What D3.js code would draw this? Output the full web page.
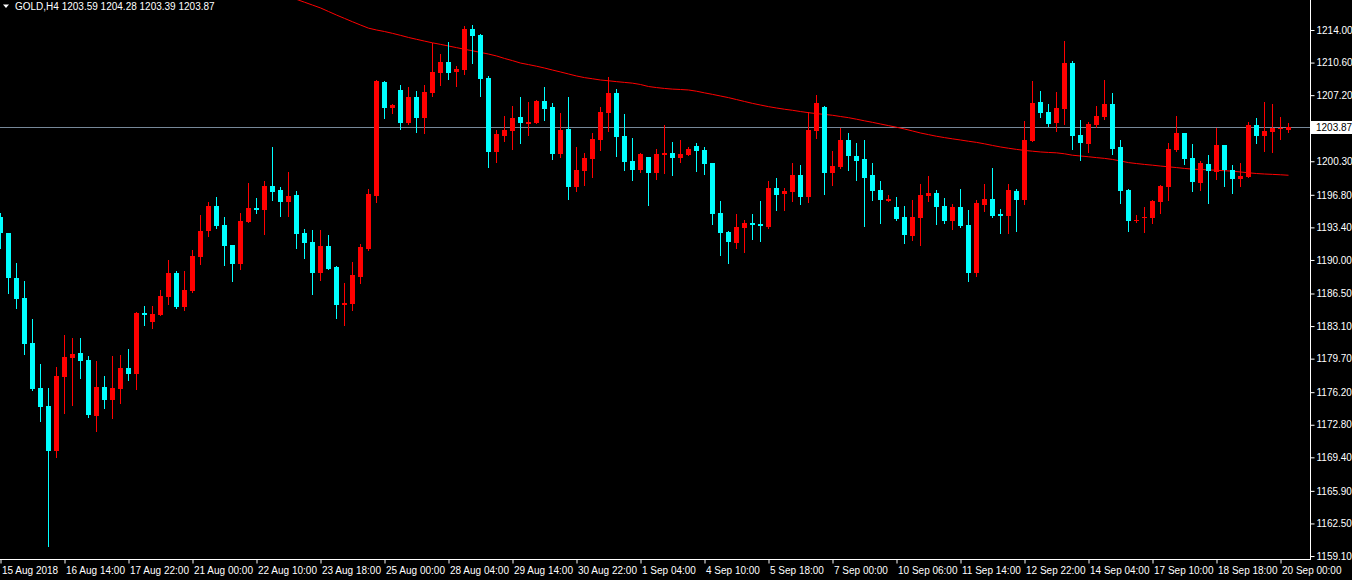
<!DOCTYPE html>
<html>
<head>
<meta charset="utf-8">
<script src="https://cdn.jsdelivr.net/npm/d3@7"></script>
<style>
html,body{margin:0;padding:0;background:#000;}
svg{display:block;}
text{font-family:"Liberation Sans",Arial,sans-serif;font-size:10px;}
</style>
</head>
<body>
<svg id="chart" width="1352" height="580"></svg>
<script>
const symbol = "GOLD,H4";

const open = [
1194.52,1192.78,1188.13,1186.03,1181.33,1176.64,1174.75,1170.09,1177.78,1179.80,
1180.29,1179.56,1173.74,1176.74,1175.41,1176.53,1178.72,1178.10,1184.46,1183.52,
1184.25,1186.13,1188.64,1185.09,1186.76,1190.31,1193.02,1195.63,1193.65,1191.56,
1189.58,1193.96,1195.42,1195.21,1197.72,1197.30,1196.05,1196.78,1192.81,1191.87,
1188.64,1191.46,1189.26,1185.30,1185.40,1188.22,1191.14,1196.67,1208.57,1205.86,
1207.74,1204.29,1207.01,1204.81,1207.42,1209.51,1210.66,1209.62,1209.82,1214.10,
1213.48,1208.99,1201.26,1202.94,1203.46,1204.92,1204.19,1204.29,1206.59,1205.96,
1201.06,1203.67,1197.61,1199.28,1200.53,1202.52,1205.34,1207.42,1202.94,1200.33,
1199.39,1200.74,1199.07,1200.95,1201.16,1200.64,1200.95,1201.89,1201.47,1200.12,
1194.91,1192.92,1191.77,1193.34,1193.86,1193.75,1193.44,1197.51,1196.88,1197.09,
1198.86,1196.57,1203.46,1205.96,1199.07,1199.70,1202.52,1200.85,1200.53,1198.86,
1197.30,1196.15,1195.53,1194.48,1192.50,1194.38,1196.67,1196.99,1195.63,1194.07,
1195.53,1193.65,1188.64,1195.73,1196.36,1194.80,1194.59,1197.20,1196.26,1202.41,
1206.48,1205.44,1204.29,1205.75,1210.55,1203.04,1202.10,1204.08,1204.92,1206.28,
1201.79,1197.30,1194.07,1194.38,1194.38,1196.05,1197.61,1201.47,1203.25,1200.64,
1198.03,1200.01,1199.18,1201.99,1199.39,1198.45,1198.66,1204.08,1202.94,1203.35,
1203.67,1203.59];

const high = [
1194.93,1192.78,1189.65,1187.81,1183.84,1179.14,1176.64,1178.83,1182.17,1181.85,
1181.85,1179.98,1179.45,1177.89,1179.98,1180.08,1180.71,1184.57,1185.23,1185.23,
1186.90,1189.99,1188.85,1188.85,1191.04,1194.69,1196.05,1196.57,1194.48,1191.56,
1194.91,1198.03,1196.47,1198.24,1201.78,1197.61,1199.18,1197.20,1193.23,1193.12,
1193.12,1192.60,1189.37,1187.60,1189.78,1191.66,1197.40,1208.78,1208.68,1206.28,
1208.26,1208.05,1207.63,1208.26,1212.64,1211.49,1212.75,1210.24,1214.42,1214.52,
1213.58,1209.20,1203.56,1205.02,1206.06,1207.01,1206.48,1206.69,1208.05,1206.38,
1205.34,1207.01,1201.79,1201.16,1203.25,1205.96,1209.09,1207.84,1205.23,1202.73,
1201.16,1200.74,1201.58,1204.08,1202.31,1202.52,1201.79,1202.21,1201.79,1200.12,
1196.15,1193.02,1194.80,1194.17,1194.80,1196.15,1198.24,1198.55,1197.51,1200.12,
1199.91,1205.44,1207.22,1206.07,1201.37,1203.77,1203.25,1202.21,1202.52,1200.12,
1198.24,1196.78,1196.57,1195.63,1196.26,1197.93,1198.76,1197.30,1196.47,1195.84,
1197.40,1195.21,1196.26,1197.93,1199.60,1195.32,1197.93,1197.40,1204.50,1208.68,
1207.63,1206.28,1207.53,1212.85,1210.76,1204.61,1204.40,1206.06,1208.78,1207.42,
1202.52,1197.40,1194.69,1195.53,1196.26,1197.82,1202.21,1205.02,1203.25,1202.10,
1200.33,1200.95,1203.77,1201.99,1199.91,1200.12,1204.40,1204.81,1206.48,1206.28,
1204.92,1204.28];

const low = [
1191.28,1186.58,1185.02,1180.22,1176.43,1173.22,1160.15,1169.46,1174.02,1174.86,
1177.68,1173.64,1172.14,1174.58,1173.53,1175.07,1177.47,1176.53,1183.24,1182.92,
1184.25,1185.40,1184.98,1184.78,1186.66,1189.58,1192.50,1193.34,1189.47,1187.81,
1189.06,1193.96,1194.91,1192.71,1196.26,1194.59,1194.59,1191.25,1190.20,1186.45,
1187.91,1189.06,1183.94,1183.21,1184.78,1187.60,1191.04,1196.05,1204.81,1205.34,
1203.66,1204.19,1203.35,1203.25,1207.11,1208.26,1208.88,1208.15,1209.41,1210.55,
1207.11,1199.70,1200.22,1202.41,1201.58,1202.21,1203.04,1204.29,1204.61,1200.53,
1200.74,1196.36,1197.20,1197.82,1198.66,1201.47,1203.46,1200.85,1199.39,1198.34,
1199.18,1195.73,1198.45,1199.07,1198.86,1200.22,1200.95,1199.28,1198.97,1193.75,
1190.52,1189.68,1191.25,1190.83,1192.19,1191.98,1193.34,1195.21,1195.21,1196.15,
1195.84,1196.05,1202.73,1196.88,1197.82,1199.60,1199.39,1198.34,1193.54,1196.26,
1193.86,1196.15,1194.17,1191.77,1192.08,1191.56,1196.15,1193.75,1193.86,1193.23,
1193.44,1187.81,1188.32,1195.11,1194.48,1192.81,1192.81,1193.02,1195.84,1202.41,
1204.92,1203.98,1203.46,1204.19,1201.58,1200.43,1201.26,1203.87,1204.71,1201.06,
1195.94,1193.02,1193.96,1192.92,1193.86,1194.93,1196.26,1201.37,1200.01,1197.20,
1197.30,1195.94,1198.45,1197.72,1196.99,1197.72,1198.66,1202.21,1201.37,1201.26,
1202.62,1203.39];

const close = [
1192.78,1188.15,1185.96,1181.26,1176.53,1174.68,1170.09,1177.89,1179.87,1180.18,
1179.48,1173.81,1176.74,1175.41,1176.64,1178.72,1178.10,1184.46,1184.29,1184.36,
1186.24,1188.64,1185.09,1186.87,1190.42,1193.02,1195.63,1193.55,1191.46,1189.58,
1194.07,1195.42,1195.21,1197.72,1197.09,1196.05,1196.67,1192.71,1191.77,1188.64,
1191.46,1189.06,1185.30,1185.51,1188.43,1191.35,1196.88,1208.68,1205.86,1206.17,
1204.29,1207.01,1204.81,1207.53,1209.62,1210.66,1209.51,1209.93,1214.10,1213.37,
1208.88,1201.26,1203.14,1203.56,1204.81,1204.29,1204.40,1206.59,1205.75,1201.06,
1203.56,1197.61,1199.39,1200.64,1202.62,1205.44,1207.42,1202.83,1200.22,1199.39,
1201.06,1199.07,1201.06,1201.16,1200.64,1201.06,1201.58,1201.37,1200.01,1194.80,
1192.81,1191.87,1193.44,1193.86,1193.65,1193.55,1197.51,1196.78,1197.20,1198.86,
1196.57,1203.56,1206.38,1199.07,1199.80,1202.52,1200.85,1200.33,1198.55,1197.20,
1196.26,1196.36,1194.28,1192.60,1194.48,1196.78,1196.99,1195.53,1194.07,1195.53,
1193.55,1188.64,1195.94,1196.36,1194.59,1194.59,1197.30,1196.26,1202.52,1206.38,
1205.34,1204.19,1205.86,1210.55,1202.94,1202.21,1204.19,1205.02,1206.28,1201.58,
1197.20,1194.07,1194.17,1194.48,1196.15,1197.72,1201.58,1203.25,1200.53,1198.13,
1200.12,1199.28,1201.99,1199.39,1198.45,1198.76,1204.08,1202.94,1203.46,1203.77,
1203.77,1203.87];

// moving average (only the part that is inside the chart window)
const ma = [
null,null,null,null,null,null,null,null,null,null,
null,null,null,null,null,null,null,null,null,null,
null,null,null,null,null,null,null,null,null,null,
null,null,null,null,null,null,1217.50,1217.20,1216.90,1216.60,
1216.30,1215.93,1215.56,1215.21,1214.86,1214.52,1214.19,1214.00,1213.84,1213.65,
1213.44,1213.22,1213.03,1212.84,1212.66,1212.50,1212.33,1212.16,1211.99,1211.83,
1211.66,1211.49,1211.29,1211.03,1210.80,1210.55,1210.39,1210.22,1210.03,1209.82,
1209.62,1209.41,1209.20,1209.03,1208.91,1208.78,1208.70,1208.61,1208.53,1208.45,
1208.31,1208.10,1207.99,1207.90,1207.83,1207.79,1207.74,1207.61,1207.44,1207.28,
1207.11,1206.94,1206.74,1206.54,1206.34,1206.17,1206.00,1205.86,1205.73,1205.62,
1205.49,1205.37,1205.27,1205.19,1205.10,1204.97,1204.85,1204.69,1204.52,1204.36,
1204.19,1204.02,1203.85,1203.67,1203.46,1203.25,1203.08,1202.91,1202.77,1202.64,
1202.52,1202.39,1202.27,1202.12,1201.95,1201.79,1201.66,1201.54,1201.43,1201.35,
1201.27,1201.22,1201.18,1201.08,1200.93,1200.85,1200.77,1200.68,1200.60,1200.49,
1200.33,1200.16,1200.06,1199.97,1199.89,1199.80,1199.72,1199.64,1199.55,1199.48,
1199.44,1199.40,1199.36,1199.31,1199.27,1199.18,1199.10,1199.02,1198.97,1198.93,
1198.89,1198.84];

const xTickLabels = ["15 Aug 2018","16 Aug 14:00","17 Aug 22:00","21 Aug 00:00","22 Aug 10:00",
"23 Aug 18:00","25 Aug 00:00","28 Aug 04:00","29 Aug 14:00","30 Aug 22:00","1 Sep 04:00",
"4 Sep 10:00","5 Sep 18:00","7 Sep 00:00","10 Sep 06:00","11 Sep 14:00","12 Sep 22:00",
"14 Sep 04:00","17 Sep 10:00","18 Sep 18:00","20 Sep 00:00"];
const xTickEvery = 8;

const yTickLabels = [1214.00,1210.60,1207.20,1203.80,1200.30,1196.80,1193.40,1190.00,
1186.50,1183.10,1179.70,1176.20,1172.80,1169.40,1165.90,1162.50,1159.10];

// ---------------------------------------------------------------
const svg = d3.select("#chart");
const plotRight = 1310, plotBottom = 559;
const n = close.length;

const x = d3.scaleLinear().domain([0, n - 1]).range([0, (n - 1) * 8]);
const y = d3.scaleLinear().domain([1158.79, 1217.13]).range([plotBottom, 0]);

const UP = "#ff0000", DOWN = "#00ffff";

svg.append("rect").attr("width", 1352).attr("height", 580).attr("fill", "#000");

svg.append("defs").append("clipPath").attr("id", "clip")
  .append("rect").attr("x", 0).attr("y", 0).attr("width", plotRight).attr("height", plotBottom);

const plot = svg.append("g").attr("clip-path", "url(#clip)");

const last = close[n - 1];

// current price line
plot.append("line")
  .attr("x1", 0).attr("x2", plotRight)
  .attr("y1", Math.round(y(last)) + 0.5).attr("y2", Math.round(y(last)) + 0.5)
  .attr("stroke", "#778899").attr("stroke-width", 1).attr("shape-rendering", "crispEdges");

// moving average
const maLine = d3.line()
  .defined(d => d != null)
  .x((d, i) => x(i) + 0.5)
  .y(d => y(d));
plot.append("path")
  .datum(ma)
  .attr("d", maLine)
  .attr("fill", "none")
  .attr("stroke", "#ff0000")
  .attr("stroke-width", 1);

// candles
const idx = d3.range(n);
const g = plot.append("g").attr("shape-rendering", "crispEdges");
g.selectAll("rect.wick").data(idx).join("rect")
  .attr("class", "wick")
  .attr("x", i => x(i))
  .attr("width", 1)
  .attr("y", i => Math.round(y(high[i])))
  .attr("height", i => Math.round(y(low[i])) - Math.round(y(high[i])) + 1)
  .attr("fill", i => close[i] >= open[i] ? UP : DOWN);

g.selectAll("rect.body").data(idx).join("rect")
  .attr("class", "body")
  .attr("x", i => x(i) - 2)
  .attr("width", 5)
  .attr("y", i => Math.round(y(Math.max(open[i], close[i]))))
  .attr("height", i => Math.max(1, Math.round(y(Math.min(open[i], close[i]))) - Math.round(y(Math.max(open[i], close[i])))))
  .attr("fill", i => close[i] >= open[i] ? UP : DOWN);

// frame
svg.append("line").attr("x1", plotRight + 0.5).attr("x2", plotRight + 0.5)
  .attr("y1", 0).attr("y2", plotBottom + 1).attr("stroke", "#fff").attr("shape-rendering", "crispEdges");
svg.append("line").attr("x1", 0).attr("x2", plotRight + 1)
  .attr("y1", plotBottom + 0.5).attr("y2", plotBottom + 0.5).attr("stroke", "#fff").attr("shape-rendering", "crispEdges");

// y axis
const yAxis = d3.axisRight(y).tickValues(yTickLabels).tickFormat(d3.format(".2f"))
  .tickSize(4).tickSizeOuter(0).tickPadding(2);
const ya = svg.append("g").attr("transform", `translate(${plotRight + 0.5},0)`).call(yAxis);
ya.select(".domain").remove();
ya.selectAll("line").attr("stroke", "#fff");
ya.selectAll("text").attr("fill", "#fff")
  .style("font-family", "'Liberation Sans',Arial,sans-serif").style("font-size", "10px");

// x axis
const xTickIdx = xTickLabels.map((d, i) => i * xTickEvery);
const xAxis = d3.axisBottom(x).tickValues(xTickIdx).tickFormat((d, i) => xTickLabels[i])
  .tickSize(4).tickSizeOuter(0).tickPadding(3);
const xa = svg.append("g").attr("transform", `translate(0.5,${plotBottom + 0.5})`).call(xAxis);
xa.select(".domain").remove();
xa.selectAll("line").attr("stroke", "#fff");
xa.selectAll("text").attr("fill", "#fff").attr("text-anchor", "start").attr("dx", 1)
  .style("font-family", "'Liberation Sans',Arial,sans-serif").style("font-size", "10px");

// current price label
const py = Math.round(y(last));
svg.append("rect").attr("x", plotRight + 1).attr("y", py - 6).attr("width", 1352 - plotRight - 1).attr("height", 13)
  .attr("fill", "#fff");
svg.append("text").attr("x", plotRight + 6).attr("y", py + 0.5).attr("dy", "0.35em")
  .attr("fill", "#000").text(last.toFixed(2));

// title
svg.append("path").attr("d", "M3,4.5 L9,4.5 L6,8 Z").attr("fill", "#fff");
svg.append("text").attr("x", 15).attr("y", 10).attr("fill", "#fff")
  .text(`${symbol}  ${open[n-1].toFixed(2)} ${high[n-1].toFixed(2)} ${low[n-1].toFixed(2)} ${close[n-1].toFixed(2)}`);
</script>
</body>
</html>
